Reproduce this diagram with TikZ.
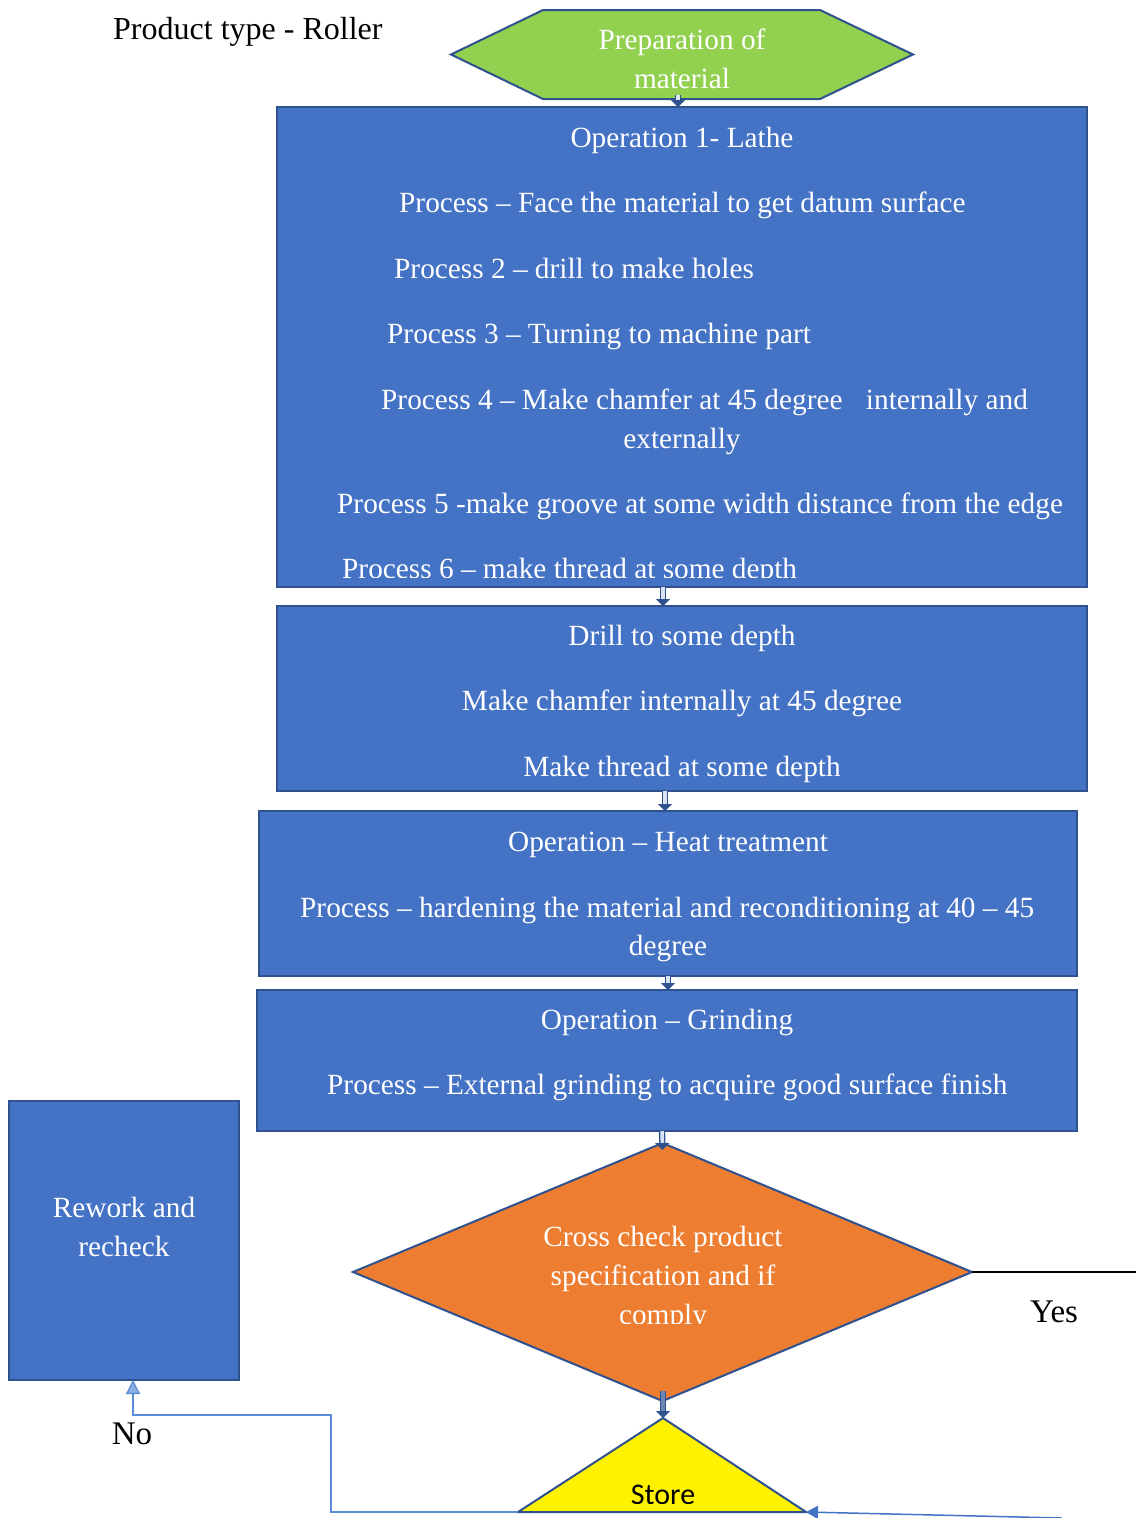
\documentclass[tikz,border=0pt]{standalone}
\usepackage{fontspec}
\setmainfont{Liberation Serif}
\newfontfamily\storefont{Carlito}
\usetikzlibrary{arrows.meta,shapes.geometric,calc}
\definecolor{boxfill}{HTML}{4472C4}
\definecolor{bdr}{HTML}{2F528F}
\definecolor{prepgreen}{HTML}{92D050}
\definecolor{checkorange}{HTML}{ED7D31}
\definecolor{noblue}{HTML}{5B8FD5}
\definecolor{arrowlight}{HTML}{DAE3F3}
\begin{document}
\begin{tikzpicture}[x=1pt,y=-1pt,
  every node/.style={font=\fontsize{29.3}{40}\selectfont},
  opbox/.style={draw=bdr, fill=boxfill, line width=2pt, inner sep=0pt, outer sep=0pt},
  tl/.style={text=white, anchor=base, inner sep=0pt},
  tll/.style={text=white, anchor=base west, inner sep=0pt},
  blk/.style={draw=bdr, line width=1.4pt, double=arrowlight, double distance=3.5pt,
    -{Triangle[width=14pt,length=7pt]}},
  plain/.style={anchor=base, inner sep=0pt, text=black, font=\fontsize{33}{40}\selectfont}]

\useasboundingbox (0,0) rectangle (1136,1518);
\fill[white] (0,0) rectangle (1136,1518);

% title
\node[plain, anchor=base west, font=\fontsize{32}{40}\selectfont] (title) at (113,39) {Product type - Roller};

% preparation hexagon
\node[minimum width=462pt, minimum height=89pt, inner sep=0pt, outer sep=0pt] (hex) at (682,54.5) {};
\draw[draw=bdr, fill=prepgreen, line width=2pt]
  (hex.west) -- ($(hex.north west)+(92,0)$) -- ($(hex.north east)+(-93,0)$) -- (hex.east)
  -- ($(hex.south east)+(-93,0)$) -- ($(hex.south west)+(92,0)$) -- cycle;
\node[tl] (hex1) at (682,49) {Preparation of};
\node[tl] (hex2) at (682,88) {material};

% operation 1 (last line cut off by the text frame)
\node[opbox, minimum width=810pt, minimum height=480pt] (op1) at (682,347) {};
\begin{scope}
  \clip (277,107) rectangle (1087,577);
  \node[tl] (op1t) at (682,147) {Operation 1- Lathe};
  \node[tll] (p1) at (399,212) {Process – Face the material to get datum surface};
  \node[tll] (p2) at (394,278) {Process 2 – drill to make holes};
  \node[tll] (p3) at (387,343) {Process 3 – Turning to machine part};
  \node[tll] (p4) at (381,409) {Process 4 – Make chamfer at 45 degree\hspace{0.55em} internally and};
  \node[tl] (p4b) at (682,448) {externally};
  \node[tll] (p5) at (337,513) {Process 5 -make groove at some width distance from the edge};
  \node[tll] (p6) at (342,578) {Process 6 – make thread at some depth};
\end{scope}

% operation 2
\node[opbox, minimum width=810pt, minimum height=185pt] (op2) at (682,698.5) {};
\node[tl] (d1) at (682,645) {Drill to some depth};
\node[tl] (d2) at (682,710) {Make chamfer internally at 45 degree};
\node[tl] (d3) at (682,776) {Make thread at some depth};

% heat treatment
\node[opbox, minimum width=818pt, minimum height=165pt] (op3) at (668,893.5) {};
\node[tl] (h1) at (668,851) {Operation – Heat treatment};
\node[tll] (h2) at (300,917) {Process – hardening the material and reconditioning at 40 – 45};
\node[tl] (h3) at (668,955) {degree};

% grinding
\node[opbox, minimum width=820pt, minimum height=141pt] (op4) at (667,1060.5) {};
\node[tl] (g1) at (667,1029) {Operation – Grinding};
\node[tll] (g2) at (327,1094) {Process – External grinding to acquire good surface finish};

% rework
\node[opbox, minimum width=230pt, minimum height=279pt] (rework) at (124,1240.5) {};
\node[tl] (r1) at (124,1217) {Rework and};
\node[tl] (r2) at (124,1256) {recheck};

% check decision
\node[diamond, draw=bdr, fill=checkorange, line width=2pt, minimum width=619pt,
  minimum height=258pt, inner sep=0pt, outer sep=0pt] (chk) at (662.5,1272) {};
\begin{scope}
  \clip (500,1200) rectangle (830,1323);
  \node[tl] (c1) at (663,1246) {Cross check product};
  \node[tl] (c2) at (663,1285) {specification and if};
  \node[tl] (c3) at (663,1324) {comply};
\end{scope}

% store
\coordinate (st-apex) at (663,1418);
\coordinate (st-l) at (518,1512);
\coordinate (st-r) at (806,1512);
\draw[draw=bdr, fill=yellow, line width=2pt] (st-apex) -- (st-r) -- (st-l) -- cycle;
\begin{scope}
  \clip (600,1460) rectangle (730,1503);
  \node[plain, font=\storefont\fontsize{30}{34}\selectfont] (store) at (663,1504) {Store};
\end{scope}

% labels
\node[plain] (yes) at (1054,1322) {Yes};
\node[plain] (no) at (132,1444) {No};

% flow arrows
\draw[blk] ($(hex.south)+(-4,-4)$) -- ($(op1.north)+(-4,0)$);
\draw[blk] ($(op1.south)+(-19,0)$) -- ($(op2.north)+(-19,0)$);
\draw[blk] ($(op2.south)+(-17,0)$) -- ($(op3.north)+(-3,0)$);
\draw[blk] (op3.south) -- ($(op4.north)+(1,0)$);
\draw[blk] ($(op4.south)+(-5,0)$) -- ($(chk.north)+(0,7)$);
\draw[blk, double=bdr!70!white] ($(chk.south)+(0.5,-10)$) -- (st-apex);

% yes branch
\coordinate (yes-end) at (1136,1272);
\draw[black, line width=1.2pt] (chk.east) -- (yes-end);

% return into store
\coordinate (in-start) at (1062,1518);
\draw[boxfill, line width=1.5pt, -{Triangle[width=13pt,length=12pt]}] (in-start) -- (st-r);

% no branch
\draw[noblue, line width=1.3pt, -{Triangle[width=14pt,length=14pt,fill=noblue!70!white]}]
  (st-l) -- ++(-187,0) |- ($(rework.south)+(9,35)$) -- ($(rework.south)+(9,0)$);

\end{tikzpicture}
\end{document}
